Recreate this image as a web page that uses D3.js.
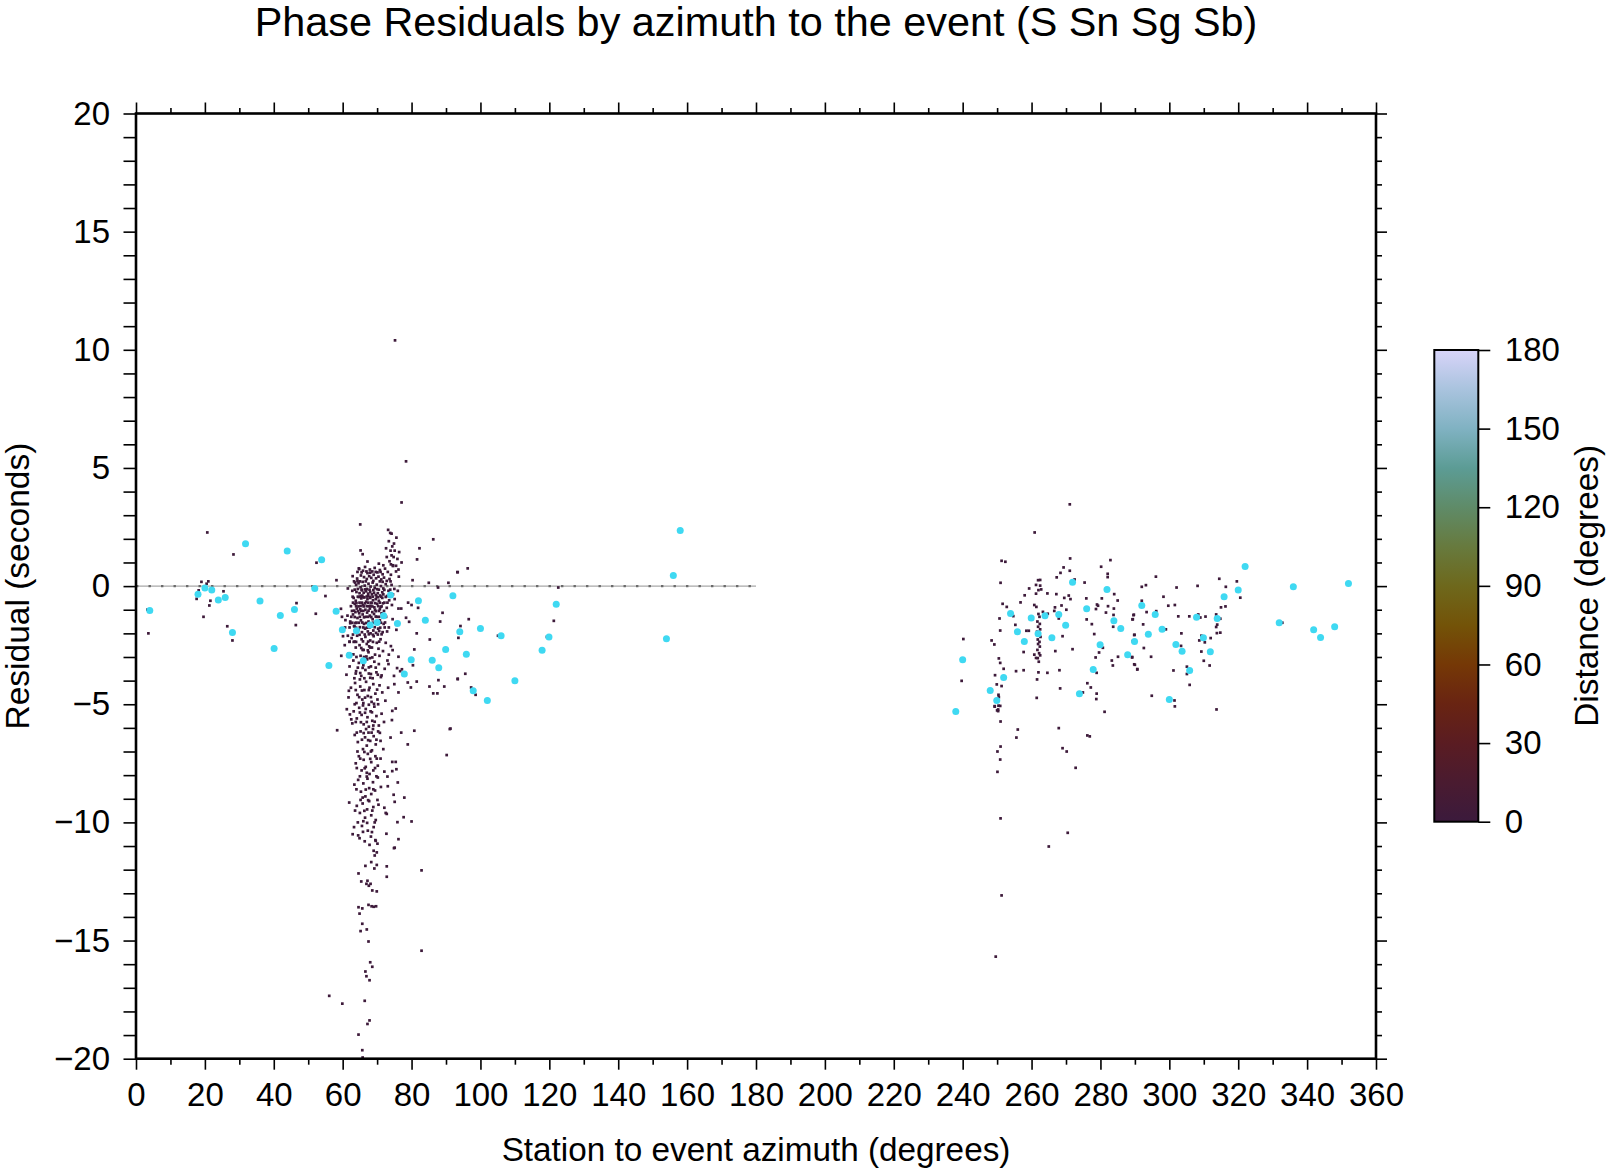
<!DOCTYPE html>
<html><head><meta charset="utf-8">
<script src="https://cdn.jsdelivr.net/npm/d3@7"></script>
<style>
body{margin:0;background:#fff;}
svg{display:block;}
text{font-family:"Liberation Sans", Arial, Helvetica, sans-serif;fill:#000;}
</style>
</head><body>
<svg id="chart" width="1607" height="1169"></svg>
<script>
// ---------- text ----------
const titleText = "Phase Residuals by azimuth to the event (S Sn Sg Sb)";
const xLabelText = "Station to event azimuth (degrees)";
const yLabelText = "Residual (seconds)";
const cbLabelText = "Distance (degrees)";

// ---------- ticks ----------
const xMajorTicks = [0,20,40,60,80,100,120,140,160,180,200,220,240,260,280,300,320,340,360];
const xMinorTicks = [10,30,50,70,90,110,130,150,170,190,210,230,250,270,290,310,330,350];
const yMajorTicks = [-20,-15,-10,-5,0,5,10,15,20];
const yMinorTicks = [-19,-18,-17,-16,-14,-13,-12,-11,-9,-8,-7,-6,-4,-3,-2,-1,1,2,3,4,6,7,8,9,11,12,13,14,16,17,18,19];
const cbTicks = [0,30,60,90,120,150,180];
const cbStopValues = [0,15,30,45,60,75,90,105,120,135,150,165,180];
const cbStopColors = ["#3b1a3c","#4a1b30","#5a1c22","#692412","#753806","#735308","#6e681c","#677a3e","#5f8b68","#5c9c95","#80b2c2","#a9c3de","#d8d4f9"];
const zeroLineAz = [0,180];

// ---------- data: large (cyan) symbols [azimuth, residual] ----------
const cyanPoints = [
[4.0,-1.03],[18.0,-0.35],[20.0,-0.08],[22.0,-0.17],[23.9,-0.59],[25.9,-0.48],[28.0,-1.96],[31.8,1.79],[36.0,-0.63],[40.1,-2.64],[41.9,-1.24],[43.9,1.49],[46.0,-0.99],
[51.9,-0.1],[53.9,1.11],[56.0,-3.36],[58.1,-1.06],[59.9,-1.85],[61.9,-2.93],[64.0,-1.89],[66.0,-3.16],[68.0,-1.65],[70.0,-1.54],[71.9,-1.25],[73.9,-0.38],[75.9,-1.58],[77.9,-3.72],[79.9,-3.12],[82.0,-0.62],[84.0,-1.45],[86.0,-3.14],[87.9,-3.46],[89.9,-2.68],[92.0,-0.41],[94.0,-1.93],
[95.9,-2.88],[97.9,-4.43],[100.0,-1.79],[102.0,-4.84],[106.0,-2.1],[110.0,-4.01],[117.9,-2.72],[119.9,-2.15],[122.0,-0.77],[154.0,-2.23],[156.0,0.45],[158.0,2.35],
[238.0,-5.31],[240.0,-3.12],[248.0,-4.42],[249.9,-4.84],[251.9,-3.87],[253.9,-1.16],[255.9,-1.93],[257.9,-2.34],[259.9,-1.35],[261.9,-2.02],[263.9,-1.25],[265.9,-2.19],[267.9,-1.2],[269.9,-1.66],[271.9,0.16],[273.9,-4.56],[276.0,-0.96],[277.9,-3.53],[279.9,-2.48],[281.9,-0.14],[283.9,-1.47],[285.9,-1.79],[287.9,-2.91],[289.9,-2.34],[292.0,-0.82],[293.9,-2.04],[295.9,-1.2],[297.9,-1.83],[300.0,-4.8],[301.9,-2.47],[303.7,-2.76],[305.9,-3.57],[307.9,-1.32],[309.9,-2.19],[311.9,-2.78],[313.9,-1.37],[315.9,-0.45],[320.0,-0.16],[322.0,0.83],[331.9,-1.55],[336.0,-0.03],[341.9,-1.85],[343.9,-2.17],[348.0,-1.72],[352.0,0.11]
];
const cyanColor = "#3fd9f2";
const smallDistance = 2;

// ---------- data: small symbols, western group [azimuth, residual] ----------
const smallWest = [
[3.3,-1.0],[3.6,-2.0],[20.7,2.27],[28.3,1.34],[19.0,0.18],[21.0,0.2],[20.5,0.1],[18.2,-0.18],[17.6,-0.54],[21.6,-0.62],[21.3,-0.82],[25.4,-0.22],[19.6,-1.3],[26.5,-1.7],[28.0,-2.3],[46.6,-0.72],[46.4,-1.65],
[75.2,10.4],[78.4,5.28],[77.1,3.54],[65.1,2.61],[73.2,2.38],[73.8,2.25],[74.2,2.22],[86.3,1.98],[65.2,1.51],[65.8,1.35],[74.9,1.8],[74.4,1.68],[73.9,1.5],[75.1,1.5],[76.4,1.44],[72.8,1.23],[74.8,1.23],[82.3,1.6],[81.6,1.13],[52.4,0.99],[67.2,1.04],
[70.5,0.95],[71.8,0.88],[74.0,0.92],[74.6,0.88],[75.5,0.86],[64.7,0.75],[58.2,0.25],[62.9,0.42],[80.3,0.25],[85.0,0.14],[90.7,0.14],[93.3,0.59],[87.7,-0.06],[55.0,-0.42],[52.2,-1.17],[79.0,-0.7],[80.0,-0.8],[81.9,-0.92],[89.0,-1.13],[88.3,-1.5],[78.4,-1.34],[79.3,-1.51],[77.0,-0.95],[81.5,-2.0],[85.3,-2.26],[80.8,-2.68],
[59.5,-0.96],[59.8,-1.3],[60.8,-1.44],[62.2,-1.57],[63.3,-1.69],[61.5,-2.1],[60.1,-2.12],[62.0,-2.36],[63.2,-2.36],[59.6,-2.95],[63.1,-2.89],[65.8,-2.7],[67.3,-2.72],[74.0,-2.54],[74.5,-2.71],[76.2,-2.99],[75.8,-3.47],[77.2,-3.52],[73.3,-3.3],[80.4,-3.35],[63.8,-3.7],[65.1,-3.68],[68.2,-3.72],[70.2,-3.75],[71.3,-3.78],
[93.4,0.59],[96.3,0.75],[122.6,-0.06],[96.6,-1.4],[94.2,-1.69],[93.8,-1.93],[93.6,-2.19],[105.1,-2.1],[119.3,-2.15],[121.3,-1.47],[95.6,-3.71],[93.4,-3.92],[97.3,-4.29],[98.6,-4.6],[91.3,-6.03],[157.7,2.35],
[61.8,-4.43],[61.7,-4.71],[61.2,-5.21],[58.4,-6.1],[62.1,-5.43],[62.5,-5.64],[62.8,-5.81],[61.9,-9.16],[62.9,-10.5],[64.9,-10.67],[91.1,-6.05],[90.2,-7.15],[80.8,-6.12],[78.9,-6.7],[77.0,-6.2],[81.5,-4.04],[85.2,-4.25],[86.3,-4.54],[87.5,-4.54],[89.5,-4.25],[93.4,-3.94],[87.8,-3.98],[79.8,-4.29],[78.9,-4.08],[76.2,-4.5],[75.0,-4.15],[74.9,-3.8],[76.7,-3.6],
[74.4,-5.28],[75.4,-5.18],[74.3,-5.67],[73.9,-6.41],[75.4,-7.44],[74.4,-7.44],[75.6,-7.75],[74.4,-7.83],[73.0,-8.06],[73.1,-8.47],[76.0,-8.31],[74.8,-8.83],[77.9,-8.95],[75.1,-9.13],[72.1,-9.38],[72.8,-9.64],[77.7,-9.78],[80.0,-9.96],[75.9,-9.99],[72.7,-10.48],[76.2,-10.71],[74.9,-11.09],[69.5,-10.75],
[69.6,-10.78],[75.1,-11.07],[69.0,-11.2],[69.9,-11.27],[69.3,-11.4],[68.3,-11.68],[69.9,-11.8],[66.6,-11.84],[69.2,-11.95],[72.8,-11.86],[82.9,-12.03],[64.6,-12.16],[72.8,-12.3],[65.4,-12.5],[67.2,-12.47],[66.9,-12.6],[68.1,-12.6],[67.6,-12.68],[68.6,-12.88],[69.9,-12.92],[67.5,-13.49],[68.4,-13.55],[69.0,-13.57],[69.7,-13.55],[64.6,-13.59],[65.7,-13.64],[64.9,-13.86],[65.7,-14.29],[65.2,-14.6],[67.0,-14.53],[67.5,-15.04],[82.9,-15.43],[68.0,-15.92],[68.6,-16.11],[66.6,-16.31],[66.9,-16.51],[67.8,-16.68],[56.1,-17.34],[59.9,-17.67],[66.4,-17.55],[67.8,-18.38],[67.2,-18.53],[64.6,-18.98],[65.7,-19.64],[65.8,-19.95],
[73.4,1.9],[75.6,2.05],[74.2,1.3],[75.9,1.15],[73.6,1.05],[76.2,0.7],[77.1,1.0],[72.6,1.6],
// core band +0.9 .. +0.3
[64.8,0.72],[65.9,0.65],[66.5,0.81],[67.2,0.55],[67.9,0.7],[68.6,0.62],[69.3,0.77],[70.1,0.58],[70.8,0.68],[71.6,0.5],[72.3,0.74],[73.1,0.6],[74.0,0.48],[74.6,0.85],[75.5,0.62],[76.3,0.4],[65.3,0.45],[66.2,0.38],[67.0,0.3],[67.7,0.42],[68.3,0.35],[69.0,0.48],[69.7,0.33],[70.4,0.4],[71.2,0.28],[72.0,0.36],[72.8,0.22],[73.6,0.3],[64.2,0.32],[63.6,0.15],
[64.3,0.6],[65.5,0.58],[66.9,0.62],[68.0,0.57],[69.6,0.6],[71.0,0.6],
// core band +0.3 .. -0.3
[63.9,0.05],[64.6,0.12],[65.2,-0.05],[65.8,0.18],[66.4,0.02],[67.0,-0.12],[67.5,0.1],[68.1,-0.02],[68.7,0.15],[69.3,-0.08],[69.9,0.06],[70.5,-0.15],[71.1,0.0],[71.8,-0.1],[72.5,0.08],[73.3,-0.2],[74.2,0.05],[75.0,-0.12],[62.8,-0.2],[64.0,-0.25],[64.9,-0.3],[65.6,-0.18],[66.1,-0.28],[66.8,-0.22],[67.4,-0.32],[68.0,-0.25],[68.5,-0.35],[69.1,-0.28],[69.6,-0.38],[70.2,-0.3],[70.9,-0.4],[71.5,-0.26],[72.9,-0.42],[74.6,-0.35],[76.0,-0.2],[61.5,-0.1],
[63.3,0.2],[64.3,0.22],[65.0,0.2],[66.7,0.2],[68.9,0.22],[70.8,0.2],[71.6,0.18],[73.9,0.2],
[63.5,-0.15],[64.4,-0.12],[65.5,-0.15],[66.5,-0.14],[67.8,-0.15],[68.9,-0.17],[70.0,-0.13],[72.1,-0.16],[73.8,-0.15],
// core band -0.3 .. -1.0
[63.2,-0.5],[63.8,-0.62],[64.4,-0.45],[64.9,-0.7],[65.4,-0.52],[65.9,-0.8],[66.3,-0.48],[66.8,-0.66],[67.2,-0.55],[67.6,-0.85],[68.0,-0.5],[68.4,-0.72],[68.8,-0.6],[69.2,-0.9],[69.6,-0.55],[70.0,-0.75],[70.5,-0.62],[71.0,-0.88],[71.5,-0.5],[72.1,-0.7],[72.8,-0.92],[73.5,-0.6],[74.3,-0.8],[75.1,-0.55],[76.2,-0.95],[62.4,-0.85],[64.1,-0.95],[65.1,-0.98],[66.6,-1.0],[67.9,-0.95],[69.4,-1.0],[70.8,-0.98],[63.5,-0.75],[65.7,-0.4],[67.4,-0.42],[69.9,-0.45],[71.8,-0.35],
[62.9,-0.45],[64.7,-0.46],[65.2,-0.43],[66.0,-0.47],[67.0,-0.44],[67.9,-0.46],[68.7,-0.45],[70.3,-0.47],[71.2,-0.45],[72.5,-0.46],
[63.0,-0.7],[64.0,-0.72],[65.6,-0.7],[66.5,-0.73],[67.4,-0.7],[68.2,-0.7],[69.4,-0.72],[70.8,-0.7],[71.7,-0.73],[73.0,-0.7],
[63.9,-0.85],[64.6,-0.86],[65.2,-0.84],[66.1,-0.86],[67.0,-0.85],[68.0,-0.84],[68.6,-0.86],[70.3,-0.85],[71.3,-0.86],
// core band -1 .. -2
[63.0,-1.2],[63.7,-1.1],[64.3,-1.35],[64.8,-1.15],[65.3,-1.45],[65.8,-1.2],[66.2,-1.6],[66.7,-1.3],[67.1,-1.12],[67.5,-1.5],[67.9,-1.25],[68.3,-1.7],[68.7,-1.4],[69.1,-1.18],[69.5,-1.55],[69.9,-1.3],[70.3,-1.8],[70.8,-1.45],[71.3,-1.15],[71.9,-1.6],[72.6,-1.3],[73.4,-1.75],[74.5,-1.4],[62.2,-1.5],[63.4,-1.7],[64.6,-1.85],[65.6,-1.95],[66.5,-1.8],[67.3,-1.92],[68.1,-2.0],[68.9,-1.88],[69.7,-1.98],[70.6,-1.9],[71.6,-1.95],[72.9,-1.92],[61.4,-1.25],[60.7,-1.75],[75.6,-1.85],[64.0,-1.55],[66.0,-1.05],[68.6,-1.1],
[62.7,-1.05],[63.3,-1.04],[64.5,-1.06],[65.4,-1.05],[67.5,-1.04],[69.6,-1.06],[70.5,-1.05],[72.0,-1.05],
[62.5,-1.3],[63.5,-1.31],[65.0,-1.3],[66.2,-1.32],[67.4,-1.3],[68.3,-1.31],[69.6,-1.29],[70.6,-1.3],[71.6,-1.31],
[62.8,-1.55],[63.7,-1.56],[64.7,-1.55],[65.7,-1.54],[66.8,-1.56],[68.8,-1.55],[70.0,-1.56],[71.1,-1.55],[72.3,-1.54],
[62.0,-1.75],[63.9,-1.76],[65.0,-1.74],[66.0,-1.75],[67.0,-1.76],[67.8,-1.75],[69.3,-1.74],[70.9,-1.76],[72.2,-1.75],
// band -2 .. -3
[62.6,-2.2],[63.5,-2.35],[64.2,-2.1],[64.9,-2.5],[65.5,-2.25],[66.1,-2.7],[66.6,-2.15],[67.0,-2.45],[67.5,-2.8],[68.0,-2.3],[68.5,-2.6],[69.0,-2.12],[69.4,-2.9],[69.9,-2.4],[70.4,-2.65],[71.0,-2.25],[71.7,-2.75],[72.5,-2.4],[73.4,-2.9],[60.6,-2.5],[61.8,-2.85],[65.2,-2.95],[67.7,-2.55],[66.9,-2.98],[70.7,-2.95],
[63.0,-2.05],[64.9,-2.06],[66.4,-2.05],[67.6,-2.04],[68.8,-2.06],[70.2,-2.05],[71.3,-2.04],
[62.0,-2.35],[63.9,-2.36],[65.9,-2.34],[67.4,-2.35],[68.8,-2.36],[70.6,-2.35],
[63.8,-2.6],[65.4,-2.62],[68.0,-2.6],[64.0,-3.0],[66.2,-3.0],[68.6,-3.02],
// band -3 .. -4
[62.0,-3.4],[63.1,-3.15],[63.9,-3.6],[64.7,-3.25],[65.4,-3.8],[66.0,-3.35],[66.6,-3.55],[67.1,-3.1],[67.6,-3.7],[68.2,-3.4],[68.7,-3.9],[69.2,-3.2],[69.8,-3.65],[70.5,-3.3],[71.1,-3.85],[72.2,-3.5],[73.0,-3.15],[65.0,-3.95],[67.9,-3.05],[61.1,-3.75],
[64.4,-3.45],[65.8,-3.46],[67.6,-3.44],[69.6,-3.45],[63.4,-3.9],[66.3,-3.9],[68.0,-3.88],
// band -4 .. -5
[62.4,-4.3],[63.6,-4.1],[64.3,-4.6],[65.1,-4.25],[65.7,-4.8],[66.3,-4.4],[66.8,-4.05],[67.3,-4.65],[67.8,-4.3],[68.4,-4.9],[68.9,-4.15],[69.5,-4.55],[70.1,-4.8],[70.7,-4.2],[71.5,-4.5],[72.4,-4.85],[64.0,-4.95],[66.0,-4.95],[69.1,-4.98],[73.2,-4.3],
[63.8,-4.4],[65.6,-4.42],[67.6,-4.4],[70.0,-4.38],[64.8,-4.7],[66.5,-4.72],[68.2,-4.7],
// band -5 .. -6
[63.2,-5.3],[64.1,-5.6],[64.8,-5.15],[65.5,-5.45],[66.1,-5.85],[66.7,-5.2],[67.2,-5.55],[67.6,-5.95],[68.1,-5.3],[68.6,-5.7],[69.2,-5.1],[69.8,-5.5],[70.5,-5.9],[71.3,-5.4],[72.0,-5.75],[65.9,-5.05],[67.0,-5.75],[68.9,-5.9],
[63.5,-5.0],[67.6,-5.02],[70.3,-5.0],[65.0,-5.35],[66.5,-5.36],[68.5,-5.34],[63.8,-5.75],[65.3,-5.76],[69.3,-5.74],
// band -6 .. -7
[63.5,-6.3],[64.4,-6.6],[65.2,-6.15],[65.9,-6.9],[66.5,-6.4],[67.0,-6.75],[67.5,-6.2],[68.0,-6.55],[68.5,-6.95],[69.0,-6.35],[69.6,-6.7],[70.3,-6.15],[71.0,-6.55],[71.8,-6.9],[66.8,-6.05],[68.8,-6.05],
[64.1,-6.2],[66.1,-6.22],[68.4,-6.2],[70.8,-6.21],[65.6,-6.5],[67.4,-6.52],[69.8,-6.5],
// band -7 .. -8
[63.8,-7.5],[64.7,-7.2],[65.5,-7.8],[66.1,-7.35],[66.7,-7.65],[67.3,-7.1],[67.8,-7.95],[68.3,-7.45],[68.9,-7.8],[69.5,-7.2],[70.2,-7.6],[71.0,-7.3],[72.1,-7.85],[67.0,-7.9],
[64.3,-7.0],[66.3,-7.02],[68.2,-7.0],[65.1,-7.3],[68.0,-7.31],[69.9,-7.3],[64.1,-7.7],[66.4,-7.71],[69.4,-7.7],
// band -8 .. -9
[63.4,-8.4],[64.5,-8.2],[65.3,-8.7],[66.0,-8.35],[66.6,-8.9],[67.2,-8.15],[67.7,-8.55],[68.3,-8.8],[68.8,-8.3],[69.4,-8.65],[70.2,-8.1],[71.1,-8.5],[65.8,-8.95],
[65.0,-8.05],[67.0,-8.06],[69.8,-8.05],[64.0,-8.6],[66.7,-8.61],[68.9,-8.6],
// band -9 .. -10
[64.1,-9.3],[65.0,-9.6],[65.8,-9.2],[66.5,-9.8],[67.1,-9.45],[67.7,-9.1],[68.3,-9.7],[68.9,-9.35],[69.6,-9.9],[70.4,-9.25],[66.0,-9.95],[72.5,-9.6],
[65.2,-9.05],[67.4,-9.06],[70.1,-9.05],[63.6,-9.5],[66.3,-9.51],[68.6,-9.5],
// band -10 .. -11
[63.3,-10.2],[64.5,-10.55],[65.6,-10.15],[66.4,-10.8],[67.3,-10.35],[68.2,-10.6],[69.0,-10.2],[70.1,-10.9],[67.8,-10.95],
[64.4,-10.0],[67.1,-10.02],[69.3,-10.0],[65.9,-10.4],[68.5,-10.41]
];

// ---------- data: small symbols, eastern group [azimuth, residual] ----------
const smallEast = [
[271.1,3.46],[260.9,2.27],[251.3,1.07],[252.4,1.03],[271.2,1.17],[282.9,1.1],[269.3,0.79],[271.1,0.65],[268.4,0.56],[267.3,0.37],[251.0,0.14],[261.9,0.25],[262.5,0.26],[261.3,0.05],[262.5,0.02],[262.8,-0.14],[259.3,-0.1],[262.0,-0.17],[261.3,-0.32],[258.0,-0.39],[256.8,-0.69],[264.6,-0.31],[267.2,-0.34],[269.5,-0.5],[270.8,-0.4],[271.3,-0.55],[272.5,0.28],[275.4,0.15],[280.2,0.82],[282.1,0.52],[282.1,0.38],[275.9,-0.52],[280.4,-0.52],[284.0,-0.34],[285.0,-0.61],[279.0,-0.78],[282.2,-0.85],[283.9,-0.95],[281.6,-1.12],[283.8,-1.22],[289.6,-1.23],[289.3,-1.41],
[251.6,-0.75],[252.8,-0.88],[254.7,-1.27],[250.7,-1.37],[250.9,-1.88],[255.3,-1.64],[258.5,-1.89],[259.2,-1.89],[260.8,-0.8],[261.4,-0.88],[263.3,-1.09],[264.7,-1.17],[266.8,-0.9],[266.6,-1.05],[268.7,-0.82],[270.1,-1.0],[267.9,-1.37],[269.0,-2.12],[266.9,-2.75],[271.9,-2.67],
[262.0,-1.18],[262.3,-1.3],[261.7,-1.5],[262.4,-1.6],[261.9,-1.72],[262.5,-1.83],[261.6,-1.93],[262.2,-2.05],[262.6,-2.15],[261.8,-2.26],[262.3,-2.36],[261.9,-2.45],[262.4,-2.56],[261.7,-2.7],[262.2,-2.84],[262.5,-2.93],[261.8,-3.05],[262.1,-3.2],[260.8,-2.9],[261.3,-3.04],
[257.7,-2.79],[257.7,-3.56],[255.5,-3.6],[262.0,-3.65],[264.6,-3.67],[261.6,-3.95],[261.5,-4.73],[268.1,-3.56],[268.3,-4.33],[249.2,-2.47],[250.5,-3.06],[250.9,-3.25],[251.9,-3.5],[249.4,-3.77],[249.9,-4.16],[251.3,-4.23],[250.4,-4.6],[250.5,-4.7],[249.3,-5.08],[250.4,-5.06],[250.0,-5.26],[240.2,-2.24],[239.7,-4.01],[248.4,-2.3],
[276.0,-1.41],[277.5,-1.61],[278.7,-0.97],[279.3,-0.83],[278.2,-2.03],[278.6,-3.02],[279.6,-2.81],[280.7,-2.61],[278.9,-3.67],[276.2,-4.11],[277.2,-4.29],[278.9,-4.55],[278.8,-4.78],[281.2,-5.32],[285.1,-2.99],[283.3,-3.15],[283.6,-3.36],[289.2,-3.02],[289.8,-3.31],[290.7,-3.51],[283.7,-1.5],[283.7,-1.72],[289.8,-2.07],[274.9,-4.5],
[296.1,0.4],[292.0,-0.03],[293.2,0.04],[302.1,-0.06],[308.2,0.01],[314.5,0.31],[319.6,0.2],[316.4,-0.03],[320.6,-0.49],[298.3,-0.45],[292.0,-0.62],[299.7,-0.83],[301.6,-0.8],[315.0,-0.9],[316.3,-0.86],[296.2,-1.06],[293.4,-1.1],[289.7,-1.21],[289.4,-1.4],[302.6,-1.28],[305.8,-1.28],[308.4,-1.2],[310.5,-1.29],[309.0,-1.33],[313.6,-1.2],[314.8,-1.38],[313.9,-1.63],[313.6,-1.73],[292.4,-1.62],[299.0,-1.83],[289.9,-2.06],[313.8,-1.99],[314.8,-1.97],[309.3,-2.1],[308.7,-2.3],[310.3,-2.38],[312.0,-2.2],[289.4,-2.33],[292.6,-2.62],[289.2,-3.0],[294.7,-2.99],[303.4,-2.53],[303.5,-2.0],[309.3,-2.77],[290.0,-3.33],[290.7,-3.53],[310.0,-3.16],[311.7,-3.36],[305.1,-3.41],[305.1,-3.72],[301.2,-3.57],[305.9,-4.18],[294.9,-4.64],[301.5,-4.84],[301.6,-5.09],[313.7,-5.22],[332.8,-1.55],
[249.3,-5.1],[250.9,-5.07],[250.3,-5.22],[250.3,-5.29],[251.0,-5.73],[256.0,-6.07],[255.6,-6.41],[251.0,-6.79],[250.1,-7.0],[250.9,-7.34],[250.1,-7.86],[267.9,-6.01],[269.0,-6.86],[270.2,-7.0],[272.8,-7.69],[276.2,-6.32],[276.9,-6.36],[251.0,-9.83],[270.5,-10.44],[265.0,-11.02],[251.3,-13.09],[249.6,-15.68]
];

// ---------- layout ----------
const svg = d3.select("#chart");
const L = 136, R = 1376, T = 113.5, B = 1058.7;
const x = d3.scaleLinear().domain([0,360]).range([L,R]);
const y = d3.scaleLinear().domain([-20,20]).range([B,T]);
const color = d3.scaleLinear().domain(cbStopValues).range(cbStopColors).interpolate(d3.interpolateRgb);
const fmt = d => (d < 0 ? "\u2212" + Math.abs(d) : String(d));
const annotSize = 33;

// zero reference line
const zl = svg.append("g");
zl.append("line").attr("x1", x(zeroLineAz[0])).attr("x2", x(zeroLineAz[1]))
  .attr("y1", y(0)).attr("y2", y(0)).attr("stroke", "#a8a8a8").attr("stroke-width", 1.2);
zl.append("line").attr("x1", x(zeroLineAz[0])).attr("x2", x(zeroLineAz[1]))
  .attr("y1", y(0)).attr("y2", y(0)).attr("stroke", "#6a6a6a").attr("stroke-width", 2.4)
  .attr("stroke-dasharray", "2.4 10.1");

// small symbols
const sm = 2.7;
const smallAll = smallWest.concat(smallEast);
svg.append("g").selectAll("rect").data(smallAll).join("rect")
  .attr("x", d => x(d[0]) - sm/2).attr("y", d => y(d[1]) - sm/2)
  .attr("width", sm).attr("height", sm)
  .attr("fill", color(smallDistance));

// cyan symbols
svg.append("g").selectAll("circle").data(cyanPoints).join("circle")
  .attr("cx", d => x(d[0])).attr("cy", d => y(d[1])).attr("r", 3.5)
  .attr("fill", cyanColor);

// axes
function styleAxis(g){ g.select(".domain").remove(); g.selectAll("line").attr("stroke","#000").attr("stroke-width",1.6);
  g.selectAll("text").attr("font-size", annotSize).attr("font-family", '"Liberation Sans", Arial, sans-serif').attr("fill","#000"); }

svg.append("g").attr("transform",`translate(0,${B})`)
  .call(d3.axisBottom(x).tickValues(xMajorTicks).tickSize(11).tickPadding(13.3).tickFormat(fmt)).call(styleAxis);
svg.append("g").attr("transform",`translate(0,${B})`)
  .call(d3.axisBottom(x).tickValues(xMinorTicks).tickSize(6).tickFormat("")).call(styleAxis);
svg.append("g").attr("transform",`translate(0,${T})`)
  .call(d3.axisTop(x).tickValues(xMajorTicks).tickSize(11).tickFormat("")).call(styleAxis);
svg.append("g").attr("transform",`translate(0,${T})`)
  .call(d3.axisTop(x).tickValues(xMinorTicks).tickSize(5.5).tickFormat("")).call(styleAxis);
svg.append("g").attr("transform",`translate(${L},0)`)
  .call(d3.axisLeft(y).tickValues(yMajorTicks).tickSize(12.5).tickPadding(13.5).tickFormat(fmt)).call(styleAxis);
svg.append("g").attr("transform",`translate(${L},0)`)
  .call(d3.axisLeft(y).tickValues(yMinorTicks).tickSize(12.5).tickFormat("")).call(styleAxis);
svg.append("g").attr("transform",`translate(${R},0)`)
  .call(d3.axisRight(y).tickValues(yMajorTicks).tickSize(11).tickFormat("")).call(styleAxis);
svg.append("g").attr("transform",`translate(${R},0)`)
  .call(d3.axisRight(y).tickValues(yMinorTicks).tickSize(6).tickFormat("")).call(styleAxis);

// frame
svg.append("rect").attr("x", L).attr("y", T).attr("width", R-L).attr("height", B-T)
  .attr("fill","none").attr("stroke","#000").attr("stroke-width",2.6);

// colour bar
const cbL = 1434.3, cbR = 1478.3, cbT = 350, cbB = 821.7;
const cbY = d3.scaleLinear().domain([0,180]).range([cbB, cbT]);
const defs = svg.append("defs");
const grad = defs.append("linearGradient").attr("id","cbgrad").attr("x1","0").attr("y1","1").attr("x2","0").attr("y2","0");
grad.selectAll("stop").data(cbStopValues).join("stop")
  .attr("offset", d => d/180).attr("stop-color", d => color(d));
svg.append("rect").attr("x", cbL).attr("y", cbT).attr("width", cbR-cbL).attr("height", cbB-cbT)
  .attr("fill","url(#cbgrad)").attr("stroke","#000").attr("stroke-width",2);
svg.append("g").attr("transform",`translate(${cbR},0)`)
  .call(d3.axisRight(cbY).tickValues(cbTicks).tickSize(12).tickPadding(14.5).tickFormat(fmt)).call(styleAxis);

// text helper: fit to target width
function fitText(sel, target, base){
  sel.attr("font-size", base);
  const w = sel.node().getComputedTextLength();
  sel.attr("font-size", base * target / w);
  return sel;
}
fitText(svg.append("text").attr("x", (L+R)/2).attr("y", 36).attr("text-anchor","middle").text(titleText), 1003, 40);
fitText(svg.append("text").attr("x", (L+R)/2).attr("y", 1161).attr("text-anchor","middle").text(xLabelText), 509, 32);
fitText(svg.append("text").attr("transform", `translate(29,${(T+B)/2}) rotate(-90)`).attr("text-anchor","middle").text(yLabelText), 287, 32);
fitText(svg.append("text").attr("transform", `translate(1598,${(cbT+cbB)/2}) rotate(-90)`).attr("text-anchor","middle").text(cbLabelText), 282, 32);
</script>
</body></html>
